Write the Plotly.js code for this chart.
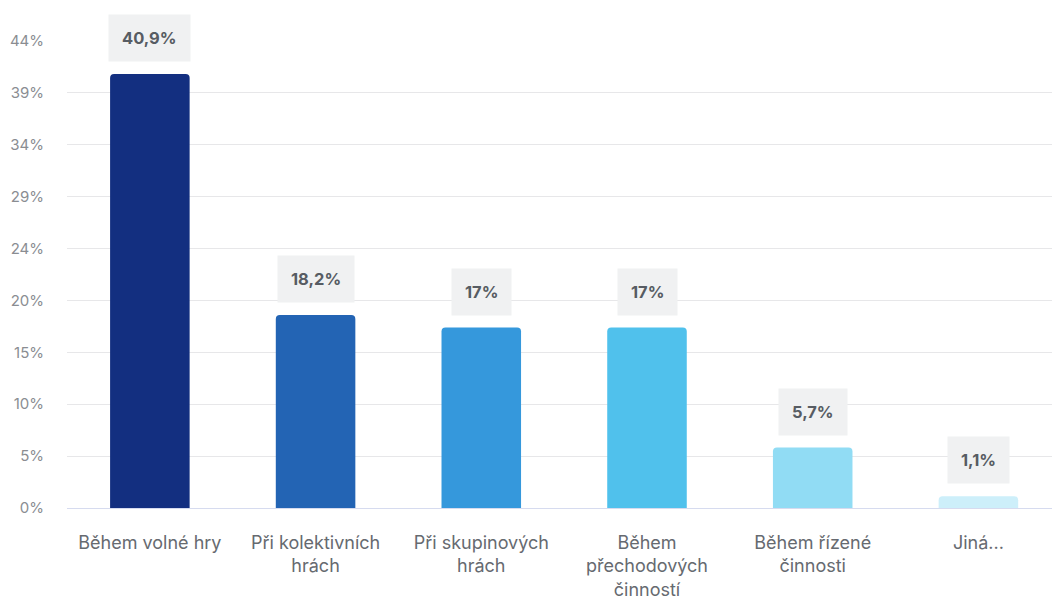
<!DOCTYPE html>
<html>
<head>
<meta charset="utf-8">
<script src="https://cdn.plot.ly/plotly-3.0.1.min.js"></script>
<style>html,body{margin:0;padding:0;background:#fff;}#chart{width:1052px;height:601px;}</style>
</head>
<body>
<div id="chart"></div>
<script>
const categories = ["Během volné hry", "Při kolektivních<br>hrách", "Při skupinových<br>hrách", "Během<br>přechodových<br>činností", "Během řízené<br>činnosti", "Jiná..."];
const values = [40.9, 18.2, 17, 17, 5.7, 1.1];
const valueLabels = ["40,9%", "18,2%", "17%", "17%", "5,7%", "1,1%"];
const barColors = ["#132f80", "#2364b4", "#3598dc", "#50c1ec", "#91dcf4", "#cdeffa"];
const yTickValues = [0, 4.89, 9.78, 14.67, 19.56, 24.45, 29.34, 34.23, 39.12, 44.01];
const yTickLabels = ["0%", "5%", "10%", "15%", "20%", "24%", "29%", "34%", "39%", "44%"];

const trace = {
  type: "bar",
  x: categories,
  y: values,
  marker: {color: barColors, line: {width: 0}, cornerradius: 4},
  hoverinfo: "none"
};

const annotations = categories.map((c, i) => ({
  x: c, y: values[i], xref: "x", yref: "y",
  text: "<b>" + valueLabels[i] + "</b>",
  showarrow: false,
  yanchor: "bottom", xanchor: "center",
  yshift: 12,
  bgcolor: "#f0f1f2",
  borderpad: 13,
  font: {family: "Inter, sans-serif", size: 16.5, color: "#575c63"}
}));

const layout = {
  width: 1052, height: 601,
  margin: {l: 67, r: 0, t: 41, b: 93},
  paper_bgcolor: "#ffffff",
  plot_bgcolor: "#ffffff",
  showlegend: false,
  bargap: 0.52,
  xaxis: {
    type: "category",
    range: [-0.5, 5.444],
    showgrid: false,
    zeroline: false,
    showline: false,
    ticks: "",
    ticklabelstandoff: 22,
    tickfont: {family: "Inter, sans-serif", size: 18, color: "#666a70"},
    fixedrange: true
  },
  yaxis: {
    range: [0, 44.01],
    tickmode: "array",
    tickvals: yTickValues,
    ticktext: yTickLabels,
    showgrid: true,
    gridcolor: "#e7e7e9",
    gridwidth: 1,
    zeroline: true,
    zerolinecolor: "#d6dbef",
    zerolinewidth: 1,
    showline: false,
    ticks: "",
    ticklabelstandoff: 22,
    tickfont: {family: "Inter, sans-serif", size: 15, color: "#8a8d92"},
    fixedrange: true
  },
  annotations: annotations
};

Plotly.newPlot("chart", [trace], layout, {displayModeBar: false, staticPlot: true});
</script>
</body>
</html>
